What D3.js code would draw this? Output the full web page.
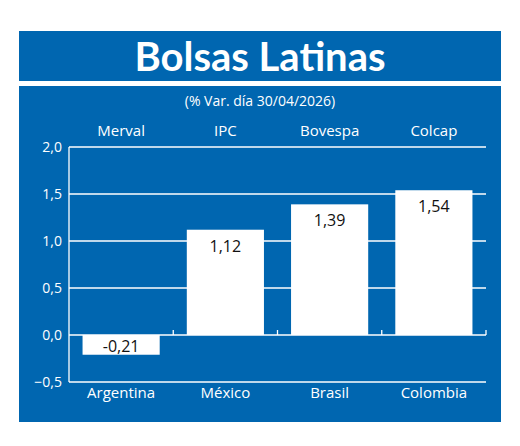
<!DOCTYPE html><html><head><meta charset="utf-8">
<script src="https://cdn.jsdelivr.net/npm/d3@7"></script>
<style>body{margin:0;background:#fff}text{font-family:"Open Sans",sans-serif}</style></head><body>
<script>
const indices=["Merval","IPC","Bovespa","Colcap"];
const countries=["Argentina","México","Brasil","Colombia"];
const values=[-0.21,1.12,1.39,1.54];
const yTicks=[-0.5,0,0.5,1,1.5,2];
const blue="#0066b0";
const svg=d3.select("body").append("svg").attr("width",520).attr("height",446);
svg.append("rect").attr("x",19).attr("y",31).attr("width",482).attr("height",50).attr("fill",blue);
svg.append("rect").attr("x",19).attr("y",86).attr("width",482).attr("height",336).attr("fill",blue);
svg.append("text").attr("x",260).attr("y",71).attr("text-anchor","middle").attr("fill","#fff")
 .attr("font-size",40).attr("font-weight","bold").style("font-family","Lato, sans-serif").text("Bolsas Latinas");
svg.append("text").attr("x",260).attr("y",106).attr("text-anchor","middle").attr("fill","#fff").attr("font-size",14).text("(% Var. día 30/04/2026)");
const x=d3.scaleBand().domain(countries).range([69,486]).paddingInner(0.26).paddingOuter(0.13);
const y=d3.scaleLinear().domain([-0.5,2]).range([382,147]);
const g=svg.append("g");
g.selectAll("line.grid").data(yTicks).join("line").attr("x1",69).attr("x2",486)
 .attr("y1",d=>y(d)).attr("y2",d=>y(d)).attr("stroke","#fff").attr("stroke-width",1.3);
g.append("line").attr("x1",69).attr("x2",69).attr("y1",y(2)).attr("y2",y(-0.5)).attr("stroke","#fff").attr("stroke-width",1.3);
g.selectAll("text.yt").data(yTicks).join("text").attr("x",62).attr("y",d=>y(d)+5).attr("text-anchor","end")
 .attr("fill","#fff").attr("font-size",14).text(d=>d3.format(".1f")(d).replace(".",","));
g.selectAll("rect.bar").data(values).join("rect").attr("x",(d,i)=>x(countries[i])).attr("width",x.bandwidth())
 .attr("y",d=>y(Math.max(0,d))).attr("height",d=>Math.abs(y(d)-y(0))).attr("fill","#fff");
const step=x.step();
g.selectAll("line.tk").data(countries).join("line").attr("x1",d=>x(d)+x.bandwidth()+x.paddingInner()*step/2)
 .attr("x2",d=>x(d)+x.bandwidth()+x.paddingInner()*step/2).attr("y1",y(0)-5).attr("y2",y(0)).attr("stroke","#fff").attr("stroke-width",1.3);
g.selectAll("text.vl").data(values).join("text").attr("x",(d,i)=>x(countries[i])+x.bandwidth()/2)
 .attr("y",d=>d<0?y(0)+17:y(d)+22).attr("text-anchor","middle").attr("fill","#111").attr("font-size",16)
 .text(d=>d.toFixed(2).replace(".",","));
g.selectAll("text.top").data(indices).join("text").attr("x",(d,i)=>x(countries[i])+x.bandwidth()/2).attr("y",136)
 .attr("text-anchor","middle").attr("fill","#fff").attr("font-size",15).text(d=>d);
g.selectAll("text.bot").data(countries).join("text").attr("x",d=>x(d)+x.bandwidth()/2).attr("y",398)
 .attr("text-anchor","middle").attr("fill","#fff").attr("font-size",15).text(d=>d);
</script></body></html>
